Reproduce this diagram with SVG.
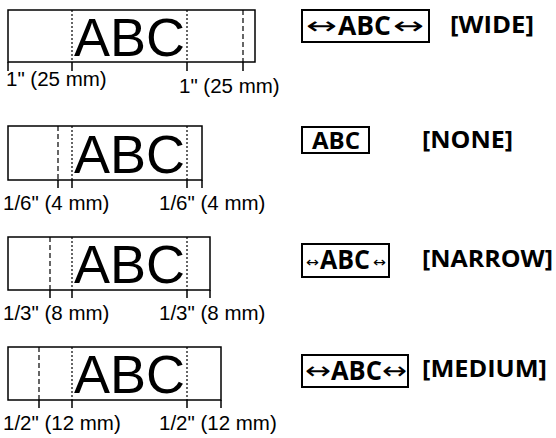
<svg xmlns="http://www.w3.org/2000/svg" width="556" height="438" viewBox="0 0 556 438">
<style>
.tape{fill:none;stroke:#000;stroke-width:1.5}
.tick{stroke:#000;stroke-width:1.5}
.dot{stroke:#000;stroke-width:1.2;stroke-dasharray:2 2}
.dash{stroke:#000;stroke-width:1.2;stroke-dasharray:5 3}
.big{font-family:"Liberation Sans",Arial,sans-serif;font-size:54px;fill:#000}
.lbl{font-family:"Liberation Sans",Arial,sans-serif;font-size:20.5px;fill:#000}
.box{fill:none;stroke:#000;stroke-width:2}
.bt{font-family:"Open Sans","Noto Sans",sans-serif;font-weight:700;font-size:26px;fill:#000}
.bt2{font-family:"Open Sans","Noto Sans",sans-serif;font-weight:700;font-size:23px;fill:#000}
.arr{font-family:"DejaVu Sans",sans-serif;font-weight:400;font-size:24px;fill:#000}
.arrs{font-family:"DejaVu Sans",sans-serif;font-weight:400;font-size:14px;fill:#000}
.mode{font-family:"Open Sans","Noto Sans",sans-serif;font-weight:700;font-size:23px;fill:#000}
</style>
<g id="wide">
<rect class="tape" x="8" y="10" width="247" height="52"/>
<line class="dot" x1="72" y1="10" x2="72" y2="62"/>
<line class="dot" x1="187" y1="10" x2="187" y2="62"/>
<line class="dash" x1="243" y1="10" x2="243" y2="62"/>
<line class="tick" x1="8" y1="62" x2="8" y2="71"/>
<line class="tick" x1="72" y1="62" x2="72" y2="71"/>
<line class="tick" x1="187" y1="62" x2="187" y2="71"/>
<line class="tick" x1="243" y1="62" x2="243" y2="71"/>
<text class="big" x="74" y="56">ABC</text>
<text class="lbl" x="6" y="86">1" (25 mm)</text>
<text class="lbl" x="179" y="93">1" (25 mm)</text>
<rect class="box" x="302" y="10" width="127" height="32"/>
<text class="arr" x="306" y="34" textLength="31" lengthAdjust="spacingAndGlyphs">↔</text>
<text class="bt" x="338" y="35" textLength="53" lengthAdjust="spacingAndGlyphs">ABC</text>
<text class="arr" x="393" y="34" textLength="31" lengthAdjust="spacingAndGlyphs">↔</text>
<text class="mode" x="450" y="33" textLength="84" lengthAdjust="spacingAndGlyphs">[WIDE]</text>
</g>
<g id="none">
<rect class="tape" x="8" y="126" width="194" height="54"/>
<line class="dash" x1="58" y1="126" x2="58" y2="180"/>
<line class="dot" x1="72" y1="126" x2="72" y2="180"/>
<line class="dot" x1="187" y1="126" x2="187" y2="180"/>
<line class="tick" x1="58" y1="180" x2="58" y2="188"/>
<line class="tick" x1="72" y1="180" x2="72" y2="188"/>
<line class="tick" x1="187" y1="180" x2="187" y2="188"/>
<line class="tick" x1="202" y1="180" x2="202" y2="188"/>
<text class="big" x="74" y="173">ABC</text>
<text class="lbl" x="3" y="210">1/6" (4 mm)</text>
<text class="lbl" x="159" y="210">1/6" (4 mm)</text>
<rect class="box" x="302" y="127" width="67" height="26"/>
<text class="bt2" x="312" y="149" textLength="48" lengthAdjust="spacingAndGlyphs">ABC</text>
<text class="mode" x="422" y="148" textLength="91" lengthAdjust="spacingAndGlyphs">[NONE]</text>
</g>
<g id="narrow">
<rect class="tape" x="8" y="237" width="202" height="53"/>
<line class="dash" x1="50" y1="237" x2="50" y2="290"/>
<line class="dot" x1="72" y1="237" x2="72" y2="290"/>
<line class="dot" x1="187" y1="237" x2="187" y2="290"/>
<line class="tick" x1="50" y1="290" x2="50" y2="298"/>
<line class="tick" x1="72" y1="290" x2="72" y2="298"/>
<line class="tick" x1="187" y1="290" x2="187" y2="298"/>
<line class="tick" x1="210" y1="290" x2="210" y2="298"/>
<text class="big" x="74" y="283">ABC</text>
<text class="lbl" x="3" y="320">1/3" (8 mm)</text>
<text class="lbl" x="159" y="320">1/3" (8 mm)</text>
<rect class="box" x="302" y="244" width="87" height="33"/>
<text class="arrs" x="306" y="267" textLength="13" lengthAdjust="spacingAndGlyphs">↔</text>
<text class="bt" x="320" y="269" textLength="50" lengthAdjust="spacingAndGlyphs">ABC</text>
<text class="arrs" x="373" y="267" textLength="13" lengthAdjust="spacingAndGlyphs">↔</text>
<text class="mode" x="422" y="267" textLength="131" lengthAdjust="spacingAndGlyphs">[NARROW]</text>
</g>
<g id="medium">
<rect class="tape" x="8" y="347" width="213" height="53"/>
<line class="dash" x1="39" y1="347" x2="39" y2="400"/>
<line class="dot" x1="72" y1="347" x2="72" y2="400"/>
<line class="dot" x1="187" y1="347" x2="187" y2="400"/>
<line class="tick" x1="39" y1="400" x2="39" y2="408"/>
<line class="tick" x1="72" y1="400" x2="72" y2="408"/>
<line class="tick" x1="187" y1="400" x2="187" y2="408"/>
<line class="tick" x1="221" y1="400" x2="221" y2="408"/>
<text class="big" x="74" y="393">ABC</text>
<text class="lbl" x="3" y="430">1/2" (12 mm)</text>
<text class="lbl" x="159" y="430">1/2" (12 mm)</text>
<rect class="box" x="302" y="355" width="106" height="32"/>
<text class="arr" x="305" y="379" textLength="26" lengthAdjust="spacingAndGlyphs">↔</text>
<text class="bt" x="331" y="380" textLength="51" lengthAdjust="spacingAndGlyphs">ABC</text>
<text class="arr" x="382" y="379" textLength="25" lengthAdjust="spacingAndGlyphs">↔</text>
<text class="mode" x="422" y="377" textLength="125" lengthAdjust="spacingAndGlyphs">[MEDIUM]</text>
</g>
</svg>
